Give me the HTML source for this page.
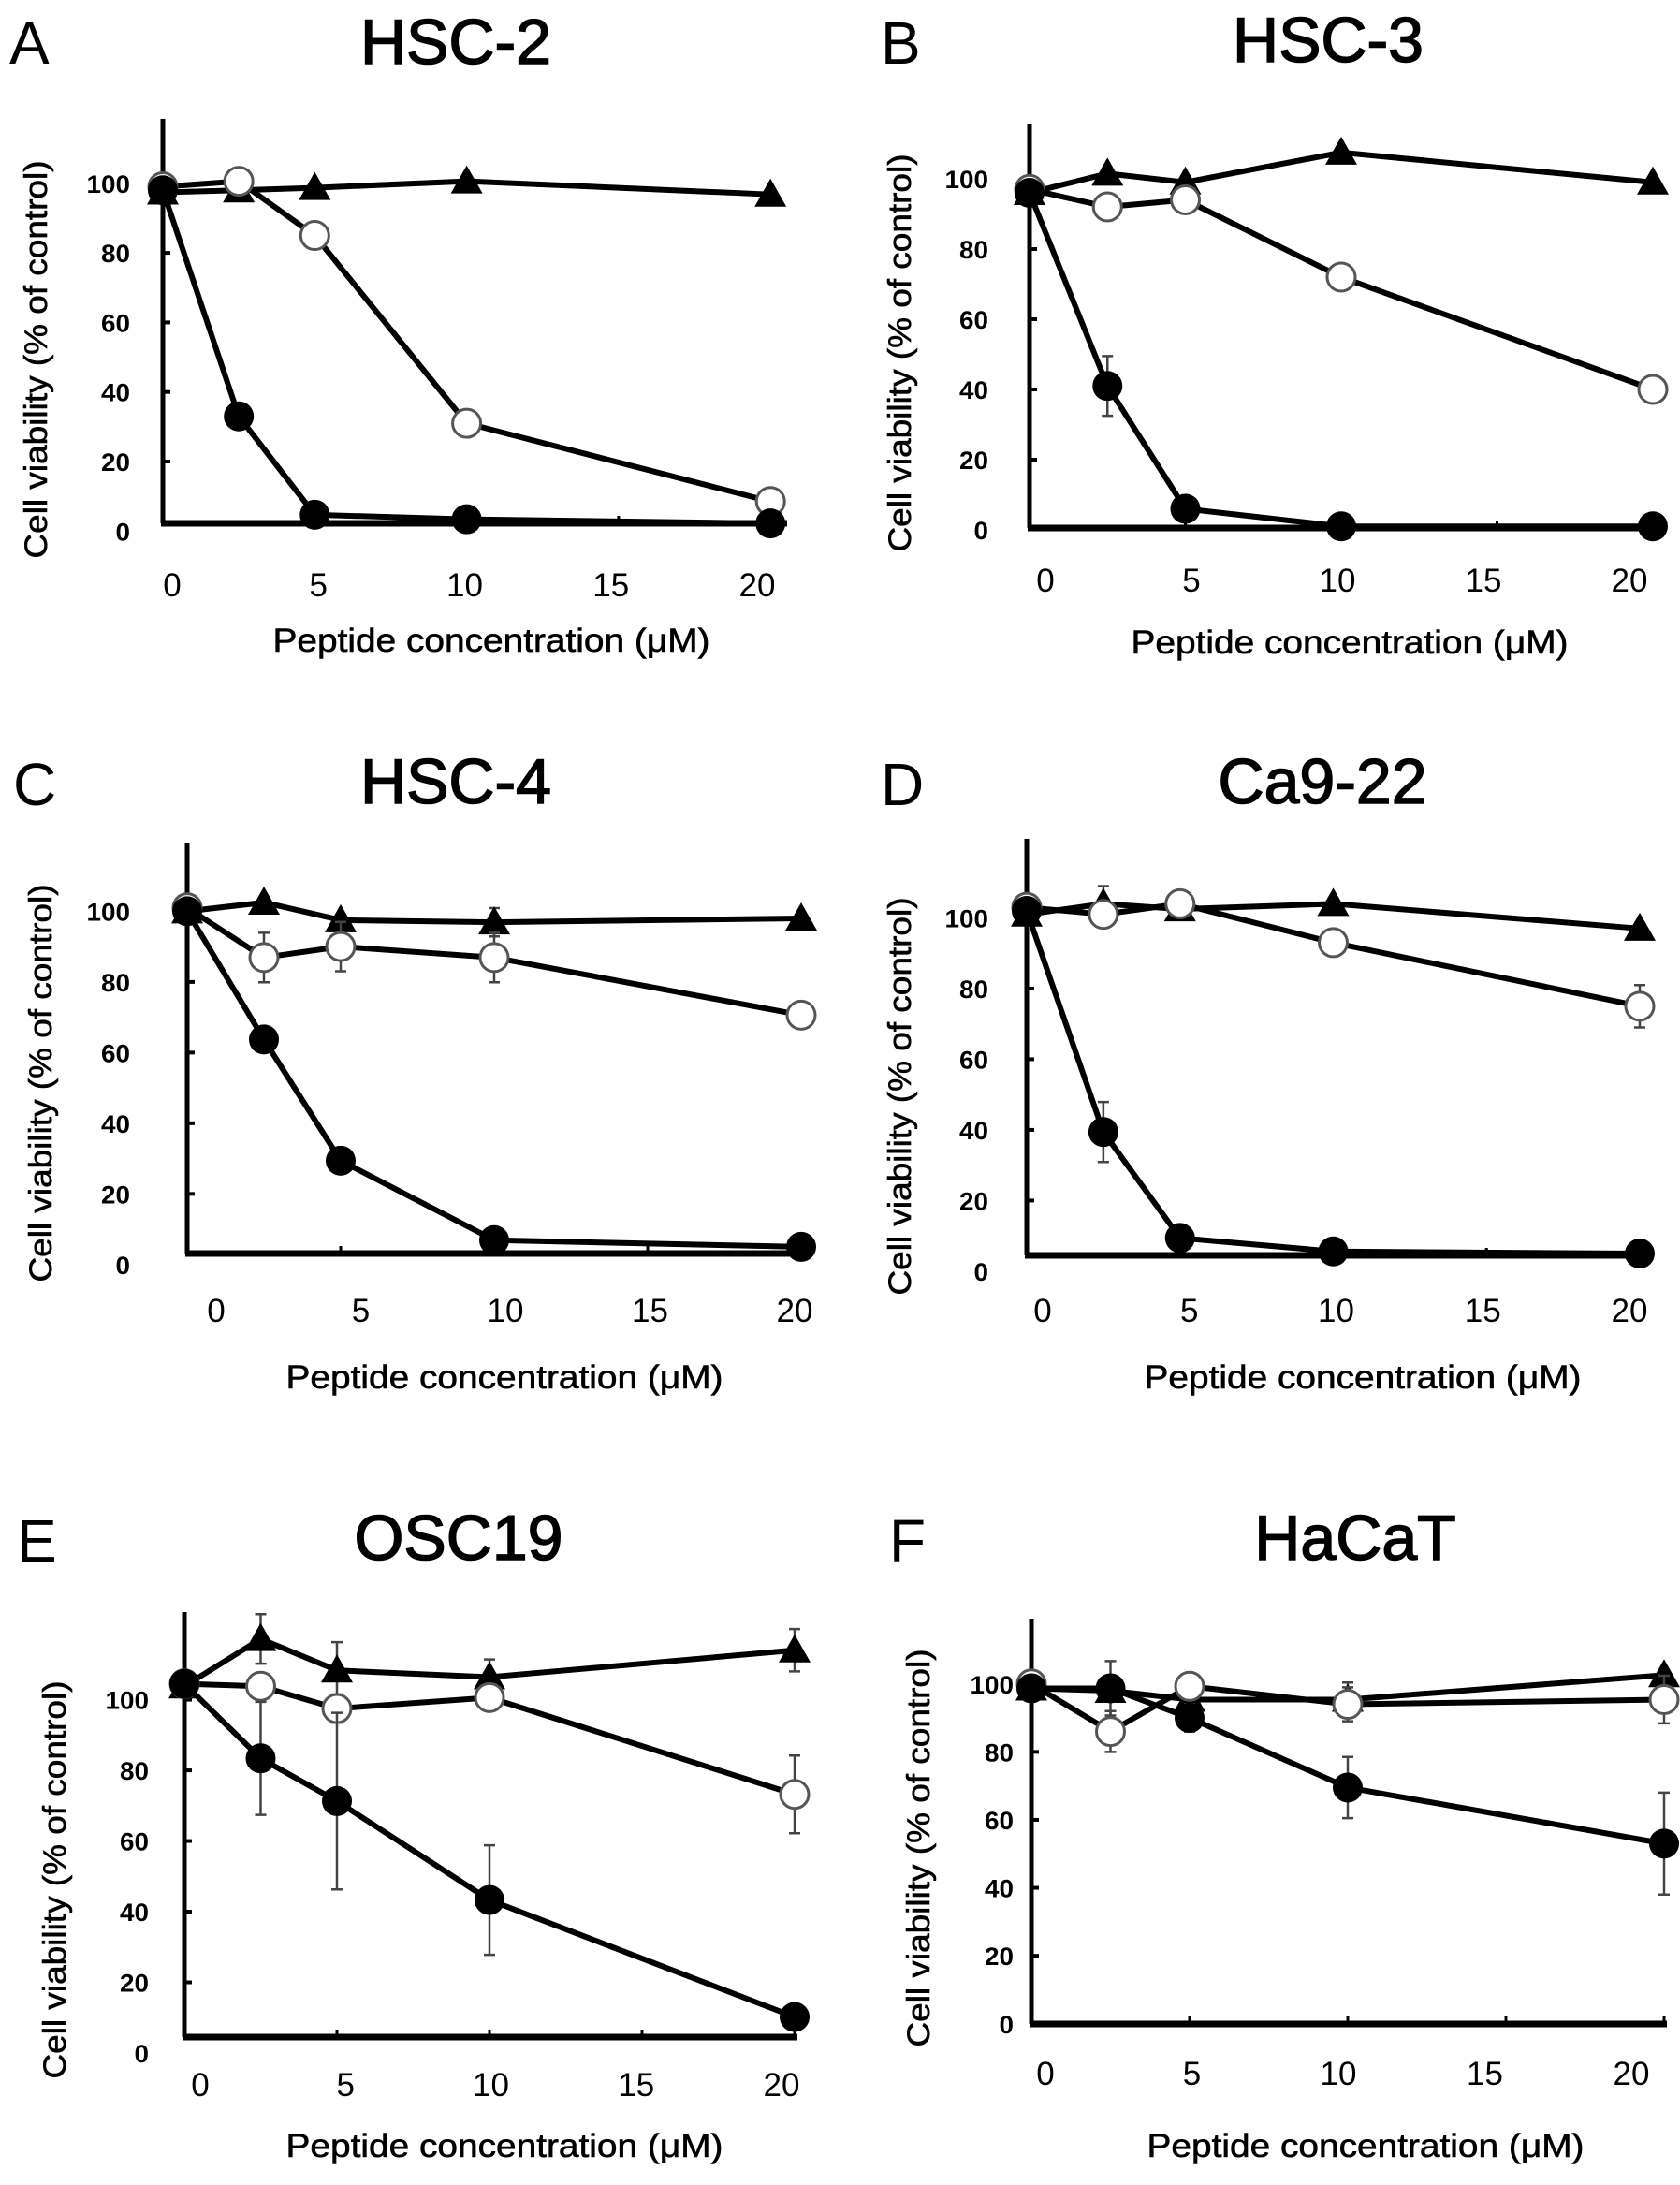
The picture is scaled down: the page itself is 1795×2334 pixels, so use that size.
<!DOCTYPE html>
<html><head><meta charset="utf-8"><style>
html,body{margin:0;padding:0;background:#fff}
svg{display:block}
text{font-family:"Liberation Sans",sans-serif;fill:#000}
</style></head><body>
<svg id="fig" width="1795" height="2334" viewBox="0 0 1795 2334" xmlns="http://www.w3.org/2000/svg"></svg>
<script>
// Data: concentrations (uM) and cell viability (% of control)
const conc = [0, 2.5, 5, 10, 20];
const xTicks = [0, 5, 10, 15, 20];
const yTicks = [0, 20, 40, 60, 80, 100];
const panelNames = ["HSC-2", "HSC-3", "HSC-4", "Ca9-22", "OSC19", "HaCaT"];
const panelLetters = ["A", "B", "C", "D", "E", "F"];
const triA = [97.4, 98, 98.7, 100.6, 96.8];
const openA = [99, 100.6, 85, 31, 8.5];
const closedA = [98, 33, 4.7, 3.4, 2.2];
const triB = [96, 101.5, 99, 107.5, 99];
const openB = [97, 92, 94, 72, 40];
const closedB = [96, 41, 6, 1, 1];
const closedErrB = [0, 8.5, 0, 0, 0];
const triC = [100, 102.5, 97.5, 96.9, 98];
const triErrC = [0, 0, 0, 4, 0];
const openC = [101, 86.9, 90, 86.9, 70.6];
const openErrC = [0, 7, 7, 7, 3];
const closedC = [100, 63.7, 29.4, 6.9, 5];
const closedErrC = [0, 3, 0, 0, 0];
const triD = [101, 104, 102.5, 104, 97];
const triErrD = [0, 5, 3, 0, 0];
const openD = [103, 101, 104, 93, 75];
const openErrD = [0, 0, 0, 3, 6];
const closedD = [102, 39.4, 9.4, 5.6, 5];
const closedErrD = [0, 8.5, 0, 0, 0];
const triE = [103.8, 117.2, 108.3, 106.4, 114];
const triErrE = [0, 7, 8, 5, 6];
const openE = [104.5, 103.8, 97.5, 100.6, 73.2];
const openErrE = [0, 0, 4, 3, 11];
const closedE = [104.5, 83.4, 71.3, 43.3, 10.2];
const closedErrE = [0, 16, 25, 15.5, 0];
const triF = [98.7, 98, 95.4, 95.4, 102.6];
const triErrF = [0, 0, 0, 5, 0];
const openF = [100, 86, 99.3, 94, 95.4];
const openErrF = [0, 6, 0, 5, 7];
const closedF = [98.7, 98.7, 90, 69.5, 53];
const closedErrF = [0, 8, 4, 9, 15];

const Z = [0, 0, 0, 0, 0];
const seriesSets = [
  [[triA, Z], [openA, Z], [closedA, Z]],
  [[triB, Z], [openB, Z], [closedB, closedErrB]],
  [[triC, triErrC], [openC, openErrC], [closedC, closedErrC]],
  [[triD, triErrD], [openD, openErrD], [closedD, closedErrD]],
  [[triE, triErrE], [openE, openErrE], [closedE, closedErrE]],
  [[triF, triErrF], [openF, openErrF], [closedF, closedErrF]]
];

// layout (pixel geometry per panel)
const L = [
 {x0:174,xu:32.46,y100:195.8,yu:3.715,ax:559,top:127,right:841,xl0:184,xl20:809,xlb:637,ylr:139,tcx:487,tb:68,lx:10,lb:68,acx:525,ab:696,ycx:38,ycy:384},
 {x0:1100,xu:33.3,y100:191,yu:3.75,ax:564,top:132,right:1778,xl0:1117,xl20:1741,xlb:632,ylr:1056,tcx:1419,tb:66,lx:941,lb:68,acx:1442,ab:698,ycx:961,ycy:377},
 {x0:200,xu:32.8,y100:973.4,yu:3.774,ax:1339,top:900,right:864,xl0:231,xl20:849,xlb:1412,ylr:139,tcx:487,tb:858,lx:14,lb:860,acx:539,ab:1483,ycx:43,ycy:1157},
 {x0:1097,xu:32.75,y100:980.5,yu:3.774,ax:1341,top:896,right:1764,xl0:1114,xl20:1741,xlb:1412,ylr:1056,tcx:1413,tb:858,lx:941,lb:860,acx:1456,ab:1483,ycx:961,ycy:1171},
 {x0:197,xu:32.6,y100:1815.6,yu:3.774,ax:2176,top:1722,right:852,xl0:214,xl20:835,xlb:2239,ylr:159,tcx:490,tb:1666,lx:18,lb:1668,acx:539,ab:2304,ycx:58,ycy:2008},
 {x0:1102,xu:33.8,y100:1798.75,yu:3.63,ax:2162,top:1729,right:1781,xl0:1117,xl20:1743,xlb:2227,ylr:1083,tcx:1448,tb:1666,lx:950,lb:1668,acx:1459,ab:2304,ycx:981,ycy:1974}
];

const NS = "http://www.w3.org/2000/svg";
const svg = document.getElementById("fig");
function mk(tag, attrs, parent){
  const e = document.createElementNS(NS, tag);
  for (const k in attrs) e.setAttribute(k, attrs[k]);
  (parent || svg).appendChild(e);
  return e;
}
const seriesKeys = ["triangle", "open-circle", "closed-circle"];

L.forEach((p, i) => {
  const g = mk("g", {});
  
  
  const X = v => p.x0 + v * p.xu;
  const Y = v => p.y100 - (v - 100) * p.yu;

  const letter = mk("text", {x:p.lx, y:p.lb, "font-size":64}, g);
  letter.textContent = panelLetters[i];
  
  

  const title = mk("text", {x:p.tcx, y:p.tb, "font-size":68, "text-anchor":"middle", stroke:"#000", "stroke-width":1.5}, g);
  title.textContent = panelNames[i];
  
  

  const yAxis = mk("line", {x1:p.x0, y1:p.top, x2:p.x0, y2:p.ax, stroke:"#000", "stroke-width":5}, g);
  
  
  const xAxis = mk("line", {x1:p.x0 - 2, y1:p.ax, x2:p.right, y2:p.ax, stroke:"#000", "stroke-width":7}, g);
  
  

  yTicks.forEach(t => {
    if (t > 0) {
      const tk = mk("line", {x1:p.x0, y1:Y(t), x2:p.x0 + 8, y2:Y(t), stroke:"#000", "stroke-width":4}, g);
      
      
    }
    const lb = mk("text", {x:p.ylr, y:Y(t) + 10, "font-size":27, "font-weight":"bold", "text-anchor":"end", textLength:String(t).length * 15.5, lengthAdjust:"spacingAndGlyphs"}, g);
    lb.textContent = t;
    
    
  });
  xTicks.forEach(t => {
    if (t > 0) {
      const tk = mk("line", {x1:X(t), y1:p.ax, x2:X(t), y2:p.ax - 8, stroke:"#000", "stroke-width":3}, g);
      
      
    }
    const lb = mk("text", {x:p.xl0 + (p.xl20 - p.xl0) * t / 20, y:p.xlb, "font-size":35, "text-anchor":"middle"}, g);
    lb.textContent = t;
    
    
  });

  const at = mk("text", {x:p.acx, y:p.ab, "font-size":35, "text-anchor":"middle", textLength:467, lengthAdjust:"spacingAndGlyphs", stroke:"#000", "stroke-width":0.6}, g);
  at.textContent = "Peptide concentration (\u03BCM)";
  
  

  const yt = mk("text", {x:0, y:0, "font-size":34, "text-anchor":"middle", textLength:425, lengthAdjust:"spacingAndGlyphs", stroke:"#000", "stroke-width":0.6, transform:`translate(${p.ycx + 12},${p.ycy}) rotate(-90)`}, g);
  yt.textContent = "Cell viability (% of control)";
  
  

  seriesSets[i].forEach((s, si) => {
    const vals = s[0], errs = s[1];
    const sg = mk("g", {}, g);
    
    
    const pts = conc.map((c, k) => X(c) + "," + Y(vals[k])).join(" ");
    const pl = mk("polyline", {points:pts, fill:"none", stroke:"#000", "stroke-width":6, "stroke-linejoin":"round"}, sg);
    
    
    conc.forEach((c, k) => {
      const cx = X(c), cy = Y(vals[k]);
      if (errs[k] > 0) {
        const e1 = Y(vals[k] + errs[k]), e2 = Y(vals[k] - errs[k]);
        const eb = mk("path", {d:`M${cx},${e1}V${e2}M${cx-6},${e1}H${cx+6}M${cx-6},${e2}H${cx+6}`, stroke:"#444", "stroke-width":2.5, fill:"none"}, sg);
        
        
      }
      let m;
      if (si === 0) {
        m = mk("path", {d:`M${cx},${cy-17}L${cx+17},${cy+13}L${cx-17},${cy+13}Z`, fill:"#000"}, sg);
      } else if (si === 1) {
        m = mk("circle", {cx:cx, cy:cy, r:15, fill:"#fff", stroke:"#555", "stroke-width":3}, sg);
      } else {
        m = mk("circle", {cx:cx, cy:cy, r:16, fill:"#000"}, sg);
      }
      
      
    });
  });
});
</script>
</body></html>
